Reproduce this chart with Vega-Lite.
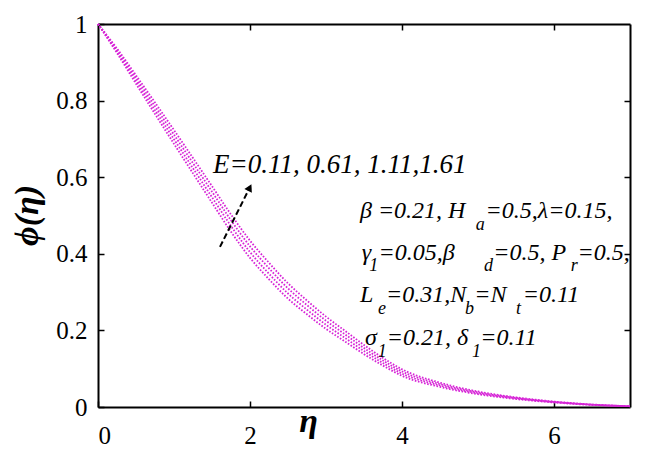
{
  "$schema": "https://vega.github.io/schema/vega-lite/v6.json",
  "width": 532,
  "height": 383,
  "autosize": {"type": "none"},
  "padding": {"left": 98, "top": 24, "right": 18, "bottom": 50},
  "background": "white",
  "config": {
    "view": {"stroke": null},
    "axis": {
      "grid": false,
      "domainColor": "black",
      "domainWidth": 2,
      "tickColor": "black",
      "tickWidth": 1.5,
      "labelFont": "Times New Roman",
      "labelFontSize": 25,
      "labelColor": "black",
      "titleFont": "Times New Roman",
      "titleColor": "black"
    }
  },
  "datasets": {
    "curves": [
      {"E": "0.11", "eta": 0, "phi": 1}, {"E": "0.61", "eta": 0, "phi": 1}, {"E": "1.11", "eta": 0, "phi": 1}, {"E": "1.61", "eta": 0, "phi": 1},
      {"E": "0.11", "eta": 0.25, "phi": 0.924}, {"E": "0.61", "eta": 0.25, "phi": 0.928}, {"E": "1.11", "eta": 0.25, "phi": 0.932}, {"E": "1.61", "eta": 0.25, "phi": 0.936},
      {"E": "0.11", "eta": 0.5, "phi": 0.844}, {"E": "0.61", "eta": 0.5, "phi": 0.8513}, {"E": "1.11", "eta": 0.5, "phi": 0.8587}, {"E": "1.61", "eta": 0.5, "phi": 0.866},
      {"E": "0.11", "eta": 0.75, "phi": 0.765}, {"E": "0.61", "eta": 0.75, "phi": 0.775}, {"E": "1.11", "eta": 0.75, "phi": 0.785}, {"E": "1.61", "eta": 0.75, "phi": 0.795},
      {"E": "0.11", "eta": 1, "phi": 0.687}, {"E": "0.61", "eta": 1, "phi": 0.699}, {"E": "1.11", "eta": 1, "phi": 0.711}, {"E": "1.61", "eta": 1, "phi": 0.723},
      {"E": "0.11", "eta": 1.25, "phi": 0.61}, {"E": "0.61", "eta": 1.25, "phi": 0.6233}, {"E": "1.11", "eta": 1.25, "phi": 0.6367}, {"E": "1.61", "eta": 1.25, "phi": 0.65},
      {"E": "0.11", "eta": 1.5, "phi": 0.5335}, {"E": "0.61", "eta": 1.5, "phi": 0.5478}, {"E": "1.11", "eta": 1.5, "phi": 0.5622}, {"E": "1.61", "eta": 1.5, "phi": 0.5765},
      {"E": "0.11", "eta": 1.75, "phi": 0.4575}, {"E": "0.61", "eta": 1.75, "phi": 0.4725}, {"E": "1.11", "eta": 1.75, "phi": 0.4875}, {"E": "1.61", "eta": 1.75, "phi": 0.5025},
      {"E": "0.11", "eta": 2, "phi": 0.3895}, {"E": "0.61", "eta": 2, "phi": 0.4045}, {"E": "1.11", "eta": 2, "phi": 0.4195}, {"E": "1.61", "eta": 2, "phi": 0.4345},
      {"E": "0.11", "eta": 2.25, "phi": 0.3335}, {"E": "0.61", "eta": 2.25, "phi": 0.3478}, {"E": "1.11", "eta": 2.25, "phi": 0.3622}, {"E": "1.61", "eta": 2.25, "phi": 0.3765},
      {"E": "0.11", "eta": 2.5, "phi": 0.283}, {"E": "0.61", "eta": 2.5, "phi": 0.2963}, {"E": "1.11", "eta": 2.5, "phi": 0.3097}, {"E": "1.61", "eta": 2.5, "phi": 0.323},
      {"E": "0.11", "eta": 2.75, "phi": 0.242}, {"E": "0.61", "eta": 2.75, "phi": 0.254}, {"E": "1.11", "eta": 2.75, "phi": 0.266}, {"E": "1.61", "eta": 2.75, "phi": 0.278},
      {"E": "0.11", "eta": 3, "phi": 0.204}, {"E": "0.61", "eta": 3, "phi": 0.2147}, {"E": "1.11", "eta": 3, "phi": 0.2253}, {"E": "1.61", "eta": 3, "phi": 0.236},
      {"E": "0.11", "eta": 3.25, "phi": 0.171}, {"E": "0.61", "eta": 3.25, "phi": 0.1803}, {"E": "1.11", "eta": 3.25, "phi": 0.1897}, {"E": "1.61", "eta": 3.25, "phi": 0.199},
      {"E": "0.11", "eta": 3.5, "phi": 0.138}, {"E": "0.61", "eta": 3.5, "phi": 0.146}, {"E": "1.11", "eta": 3.5, "phi": 0.154}, {"E": "1.61", "eta": 3.5, "phi": 0.162},
      {"E": "0.11", "eta": 3.75, "phi": 0.108}, {"E": "0.61", "eta": 3.75, "phi": 0.1147}, {"E": "1.11", "eta": 3.75, "phi": 0.1213}, {"E": "1.61", "eta": 3.75, "phi": 0.128},
      {"E": "0.11", "eta": 4, "phi": 0.0815}, {"E": "0.61", "eta": 4, "phi": 0.0872}, {"E": "1.11", "eta": 4, "phi": 0.0928}, {"E": "1.61", "eta": 4, "phi": 0.0985},
      {"E": "0.11", "eta": 4.5, "phi": 0.0525}, {"E": "0.61", "eta": 4.5, "phi": 0.0562}, {"E": "1.11", "eta": 4.5, "phi": 0.0598}, {"E": "1.61", "eta": 4.5, "phi": 0.0635},
      {"E": "0.11", "eta": 5, "phi": 0.0335}, {"E": "0.61", "eta": 5, "phi": 0.0358}, {"E": "1.11", "eta": 5, "phi": 0.0382}, {"E": "1.61", "eta": 5, "phi": 0.0405},
      {"E": "0.11", "eta": 5.5, "phi": 0.0208}, {"E": "0.61", "eta": 5.5, "phi": 0.0223}, {"E": "1.11", "eta": 5.5, "phi": 0.0238}, {"E": "1.61", "eta": 5.5, "phi": 0.0253},
      {"E": "0.11", "eta": 6, "phi": 0.0118}, {"E": "0.61", "eta": 6, "phi": 0.0126}, {"E": "1.11", "eta": 6, "phi": 0.0134}, {"E": "1.61", "eta": 6, "phi": 0.0143},
      {"E": "0.11", "eta": 6.5, "phi": 0.0054}, {"E": "0.61", "eta": 6.5, "phi": 0.0058}, {"E": "1.11", "eta": 6.5, "phi": 0.0062}, {"E": "1.61", "eta": 6.5, "phi": 0.0066},
      {"E": "0.11", "eta": 7, "phi": 0.002}, {"E": "0.61", "eta": 7, "phi": 0.002}, {"E": "1.11", "eta": 7, "phi": 0.002}, {"E": "1.61", "eta": 7, "phi": 0.002}
    ],
    "labels": [
      {"eta": 1.513, "phi": 0.61, "txt": "E=0.11, 0.61, 1.11,1.61", "kind": "big"},
      {"eta": 3.447, "phi": 0.493, "txt": "β =0.21, H", "kind": "main"},
      {"eta": 4.97, "phi": 0.463, "txt": "a", "kind": "sub"},
      {"eta": 5.1, "phi": 0.493, "txt": "=0.5,λ=0.15,", "kind": "main"},
      {"eta": 3.47, "phi": 0.385, "txt": "γ", "kind": "main"},
      {"eta": 3.57, "phi": 0.355, "txt": "1", "kind": "sub"},
      {"eta": 3.69, "phi": 0.385, "txt": "=0.05,β", "kind": "main"},
      {"eta": 5.08, "phi": 0.355, "txt": "d", "kind": "sub"},
      {"eta": 5.2, "phi": 0.385, "txt": "=0.5, P", "kind": "main"},
      {"eta": 6.22, "phi": 0.355, "txt": "r", "kind": "sub"},
      {"eta": 6.31, "phi": 0.385, "txt": "=0.5,", "kind": "main"},
      {"eta": 3.447, "phi": 0.273, "txt": "L", "kind": "main"},
      {"eta": 3.684, "phi": 0.243, "txt": "e", "kind": "sub"},
      {"eta": 3.79, "phi": 0.273, "txt": "=0.31,N", "kind": "main"},
      {"eta": 4.83, "phi": 0.243, "txt": "b", "kind": "sub"},
      {"eta": 4.95, "phi": 0.273, "txt": "=N", "kind": "main"},
      {"eta": 5.5, "phi": 0.243, "txt": "t", "kind": "sub"},
      {"eta": 5.59, "phi": 0.273, "txt": "=0.11", "kind": "main"},
      {"eta": 3.513, "phi": 0.161, "txt": "σ", "kind": "main"},
      {"eta": 3.68, "phi": 0.131, "txt": "1", "kind": "sub"},
      {"eta": 3.8, "phi": 0.161, "txt": "=0.21, δ", "kind": "main"},
      {"eta": 4.92, "phi": 0.131, "txt": "1", "kind": "sub"},
      {"eta": 5.03, "phi": 0.161, "txt": "=0.11", "kind": "main"}
    ]
  },
  "resolve": {"axis": {"x": "independent", "y": "independent"}},
  "layer": [
    {
      "data": {"name": "curves"},
      "mark": {"type": "line", "color": "#d624d6", "strokeWidth": 1.8, "strokeDash": [1.6, 1.6], "interpolate": "monotone"},
      "encoding": {
        "x": {
          "field": "eta", "type": "quantitative",
          "scale": {"domain": [0, 7], "nice": false},
          "axis": {
            "orient": "bottom", "values": [0, 2, 4, 6], "tickSize": -6, "labelPadding": 22,
            "title": "η", "titleFontSize": 34, "titleFontStyle": "italic", "titleFontWeight": "bold",
            "titleX": 210, "titleY": 24, "titleAlign": "center", "titleBaseline": "alphabetic"
          }
        },
        "y": {
          "field": "phi", "type": "quantitative",
          "scale": {"domain": [0, 1], "nice": false},
          "axis": {
            "orient": "left", "values": [0, 0.2, 0.4, 0.6, 0.8, 1], "tickSize": -6, "labelPadding": 17,
            "labelExpr": "datum.value == 0 ? '0' : datum.value == 1 ? '1' : format(datum.value, '.1f')",
            "title": "ϕ(η)", "titleFontSize": 34, "titleFontStyle": "italic", "titleFontWeight": "bold",
            "titleX": -71, "titleY": 191, "titleAngle": -90, "titleAlign": "center", "titleBaseline": "middle"
          }
        },
        "detail": {"field": "E", "type": "nominal"}
      }
    },
    {
      "data": {"values": [{"eta": 1.605, "phi": 0.418, "eta2": 1.997, "phi2": 0.573}]},
      "mark": {"type": "rule", "color": "black", "strokeWidth": 2, "strokeDash": [6, 3]},
      "encoding": {
        "x": {
          "field": "eta", "type": "quantitative",
          "axis": {"orient": "top", "values": [2, 4, 6], "tickSize": -6, "labels": false, "title": null}
        },
        "y": {
          "field": "phi", "type": "quantitative",
          "axis": {"orient": "right", "values": [0.2, 0.4, 0.6, 0.8], "tickSize": -6, "labels": false, "title": null}
        },
        "x2": {"field": "eta2"},
        "y2": {"field": "phi2"}
      }
    },
    {
      "data": {"values": [{"eta": 1.997, "phi": 0.573}]},
      "mark": {"type": "point", "shape": "triangle-up", "filled": true, "color": "black", "size": 70, "angle": 26.6, "opacity": 1},
      "encoding": {
        "x": {"field": "eta", "type": "quantitative", "axis": null},
        "y": {"field": "phi", "type": "quantitative", "axis": null}
      }
    },
    {
      "data": {"name": "labels"},
      "transform": [{"filter": "datum.kind == 'big'"}],
      "mark": {"type": "text", "font": "Times New Roman", "fontStyle": "italic", "fontSize": 27, "align": "left", "baseline": "alphabetic", "color": "black"},
      "encoding": {
        "x": {"field": "eta", "type": "quantitative", "axis": null},
        "y": {"field": "phi", "type": "quantitative", "axis": null},
        "text": {"field": "txt"}
      }
    },
    {
      "data": {"name": "labels"},
      "transform": [{"filter": "datum.kind == 'main'"}],
      "mark": {"type": "text", "font": "Times New Roman", "fontStyle": "italic", "fontSize": 24, "align": "left", "baseline": "alphabetic", "color": "black"},
      "encoding": {
        "x": {"field": "eta", "type": "quantitative", "axis": null},
        "y": {"field": "phi", "type": "quantitative", "axis": null},
        "text": {"field": "txt"}
      }
    },
    {
      "data": {"name": "labels"},
      "transform": [{"filter": "datum.kind == 'sub'"}],
      "mark": {"type": "text", "font": "Times New Roman", "fontStyle": "italic", "fontSize": 18, "align": "left", "baseline": "alphabetic", "color": "black"},
      "encoding": {
        "x": {"field": "eta", "type": "quantitative", "axis": null},
        "y": {"field": "phi", "type": "quantitative", "axis": null},
        "text": {"field": "txt"}
      }
    }
  ]
}
